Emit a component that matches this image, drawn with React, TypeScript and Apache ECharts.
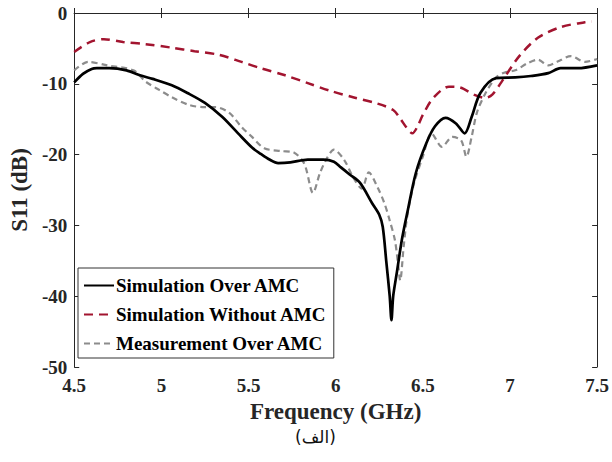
import React, { useEffect, useRef } from "react";
import * as echarts from "echarts";

const xTicks = [4.5, 5, 5.5, 6, 6.5, 7, 7.5];
const yTicks = [0, -10, -20, -30, -40, -50];

const simFreq = [4.5, 4.55, 4.6, 4.63, 4.7, 4.8, 4.877, 4.95, 5.06, 5.15, 5.25, 5.35, 5.44, 5.52, 5.57, 5.62, 5.67, 5.74, 5.84, 5.93, 5.99, 6.03, 6.08, 6.14, 6.21, 6.25, 6.27, 6.29, 6.31, 6.32, 6.33, 6.35, 6.38, 6.41, 6.46, 6.52, 6.57, 6.63, 6.69, 6.74, 6.78, 6.83, 6.92, 7.03, 7.12, 7.22, 7.29, 7.39, 7.5];
const simVals = [-9.8, -8.6, -7.9, -7.8, -7.8, -8.1, -8.8, -9.3, -10.2, -11.3, -12.7, -14.7, -17, -19, -19.9, -20.7, -21.2, -21.1, -20.7, -20.7, -21, -21.8, -22.8, -24, -26.9, -28.5, -30.2, -35, -40, -43.4, -40, -36.8, -32, -28.3, -22.6, -18.4, -16, -14.8, -15.6, -17, -14.7, -11.3, -9.2, -9.1, -8.9, -8.5, -7.8, -7.8, -7.4];

const noAmcFreq = [4.5, 4.59, 4.67, 4.78, 4.91, 5.06, 5.19, 5.33, 5.46, 5.57, 5.71, 5.84, 5.97, 6.1, 6.24, 6.33, 6.37, 6.41, 6.44, 6.47, 6.5, 6.56, 6.65, 6.71, 6.8, 6.86, 6.9, 6.95, 7.05, 7.16, 7.29, 7.43, 7.47];
const noAmcVals = [-5.5, -4.1, -3.7, -4.1, -4.4, -4.9, -5.4, -5.9, -6.9, -7.8, -8.8, -9.9, -11, -11.9, -12.8, -13.7, -14.9, -16.3, -17, -16, -14.4, -12, -10.4, -10.5, -11.6, -12, -11.5, -9.8, -6.2, -3.5, -2, -1.3, -1.2];

const measFreq = [4.5, 4.58, 4.69, 4.84, 4.91, 4.99, 5.06, 5.16, 5.25, 5.31, 5.39, 5.46, 5.52, 5.59, 5.69, 5.76, 5.82, 5.87, 5.91, 5.95, 5.99, 6.05, 6.1, 6.15, 6.19, 6.24, 6.28, 6.31, 6.34, 6.36, 6.37, 6.39, 6.41, 6.45, 6.5, 6.55, 6.61, 6.67, 6.72, 6.75, 6.78, 6.81, 6.86, 6.92, 6.97, 7.03, 7.1, 7.16, 7.22, 7.27, 7.35, 7.43, 7.5];
const measVals = [-8.1, -6.9, -7.4, -8.1, -9.7, -10.9, -11.9, -13, -13.3, -13.3, -14.1, -16.1, -17.5, -19.1, -19.5, -19.7, -21.3, -25.4, -22.6, -20.5, -19.3, -20.8, -23.2, -24.8, -22.5, -24.6, -26.9, -29.3, -32.1, -35.9, -37.8, -33, -28.8, -24, -20.3, -17, -18.9, -17.5, -18, -20.3, -17.5, -14.1, -11.3, -9.1, -8.4, -8.1, -7.1, -6.6, -7.4, -6.9, -6.1, -6.9, -6.5];

const zip = (xs: number[], ys: number[]) => xs.map((x, i) => [x, ys[i]]);

const FONT = "'Liberation Serif', 'Times New Roman', Times, serif";
const AXIS_COLOR = "#262626";

export default function App() {
  const ref = useRef<HTMLDivElement>(null);
  useEffect(() => {
    if (!ref.current) return;
    const chart = echarts.init(ref.current, null, { renderer: "svg" });
    const axisLine = { show: true, lineStyle: { color: AXIS_COLOR, width: 1 } };
    const axisTick = { show: true, inside: true, length: 5, lineStyle: { color: AXIS_COLOR } };
    chart.setOption({
      animation: false,
      backgroundColor: "#fff",
      grid: { left: 70, right: 12, top: 13, bottom: 95 },
      xAxis: [
        {
          type: "value", min: xTicks[0], max: xTicks[xTicks.length - 1], interval: 0.5,
          axisLine, axisTick, splitLine: { show: false },
          axisLabel: { color: AXIS_COLOR, fontFamily: FONT, fontWeight: "bold", fontSize: 19, margin: 9 },
          name: "Frequency (GHz)", nameLocation: "middle", nameGap: 33,
          nameTextStyle: { color: AXIS_COLOR, fontFamily: FONT, fontWeight: "bold", fontSize: 23 },
        },
        {
          type: "value", position: "top", min: xTicks[0], max: xTicks[xTicks.length - 1], interval: 0.5,
          axisLine, axisTick, axisLabel: { show: false }, splitLine: { show: false },
        },
      ],
      yAxis: [
        {
          type: "value", min: yTicks[yTicks.length - 1], max: yTicks[0], interval: 10,
          axisLine, axisTick, splitLine: { show: false },
          axisLabel: { color: AXIS_COLOR, fontFamily: FONT, fontWeight: "bold", fontSize: 19, margin: 7 },
          name: "S11 (dB)", nameLocation: "middle", nameGap: 38,
          nameTextStyle: { color: AXIS_COLOR, fontFamily: FONT, fontWeight: "bold", fontSize: 23 },
        },
        {
          type: "value", position: "right", min: yTicks[yTicks.length - 1], max: yTicks[0], interval: 10,
          axisLine, axisTick, axisLabel: { show: false }, splitLine: { show: false },
        },
      ],
      legend: {
        orient: "vertical", left: 78, top: 268,
        backgroundColor: "#fff", borderColor: "#333", borderWidth: 1,
        padding: [8, 7, 5, 5], itemGap: 10, itemWidth: 30, itemHeight: 14,
        itemStyle: { opacity: 0 },
        textStyle: { color: "#000", fontFamily: FONT, fontWeight: "bold", fontSize: 19, padding: [0, 0, 0, -3] },
        data: ["Simulation Over AMC", "Simulation Without AMC", "Measurement Over AMC"],
      },
      series: [
        {
          name: "Measurement Over AMC", type: "line", data: zip(measFreq, measVals),
          symbol: "none", smooth: 0.3, clip: true, z: 2,
          lineStyle: { color: "#8c8c8c", width: 2.2, type: [6, 4] }, itemStyle: { color: "#8c8c8c" },
        },
        {
          name: "Simulation Without AMC", type: "line", data: zip(noAmcFreq, noAmcVals),
          symbol: "none", smooth: 0.3, clip: true, z: 3,
          lineStyle: { color: "#a2142f", width: 2.5, type: [9, 6] }, itemStyle: { color: "#a2142f" },
        },
        {
          name: "Simulation Over AMC", type: "line", data: zip(simFreq, simVals),
          symbol: "none", smooth: 0.3, clip: true, z: 4,
          lineStyle: { color: "#000", width: 2.7 }, itemStyle: { color: "#000" },
        },
      ],
      graphic: [
        {
          type: "text", left: 295, top: 428,
          style: { text: "(الف)", fill: "#111", font: "17px 'DejaVu Sans'" },
        },
      ],
    });
    return () => chart.dispose();
  }, []);
  return <div ref={ref} style={{ position: "fixed", left: 0, top: 0, width: 612, height: 462 }} />;
}
